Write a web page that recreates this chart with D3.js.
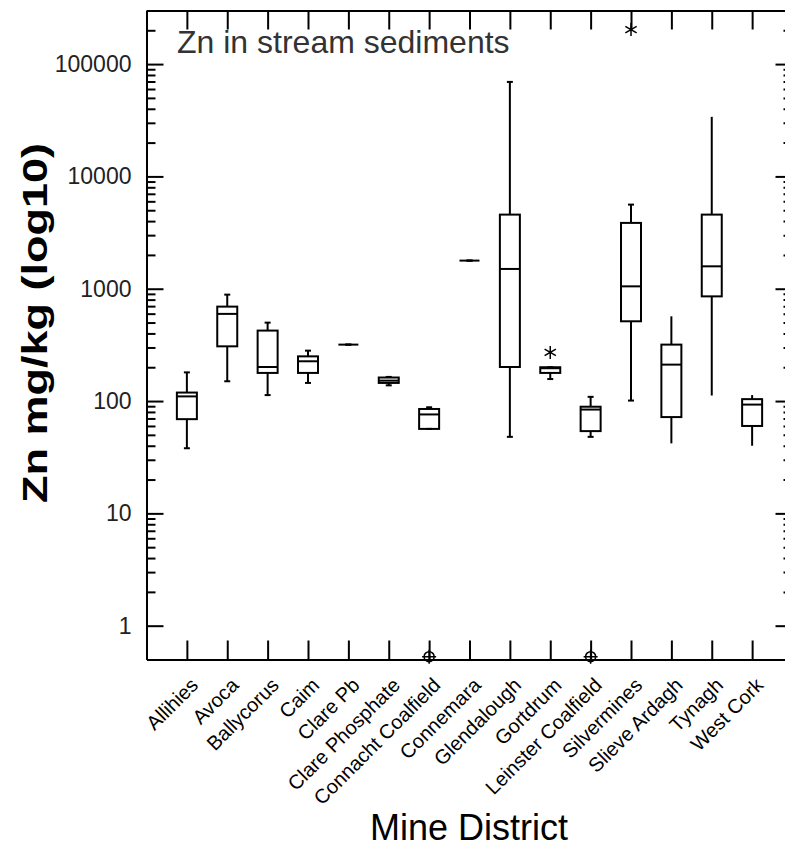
<!DOCTYPE html>
<html>
<head>
<meta charset="utf-8">
<script src="https://cdn.jsdelivr.net/npm/d3@7"></script>
<style>
  body { margin: 0; background: #fff; }
  text { font-family: "Liberation Sans", Arial, sans-serif; }
</style>
</head>
<body>
<div class="container"></div>
<script>
// box plot values (mg/kg)
const districts = ["Allihies", "Avoca", "Ballycorus", "Caim", "Clare Pb", "Clare Phosphate",
  "Connacht Coalfield", "Connemara", "Glendalough", "Gortdrum", "Leinster Coalfield",
  "Silvermines", "Slieve Ardagh", "Tynagh", "West Cork"];
const mins    = [38, 150, 113, 145, 318, 138, 56.5, 1780, 48, 157, 48, 101, 42, 112, 40];
const q1s     = [69, 307, 178, 178, 318, 145, 56.5, 1780, 201, 178, 54, 513, 72, 855, 60];
const medians = [110, 597, 201, 226, 318, 152, 76, 1780, 1500, 196, 84, 1050, 211, 1583, 93];
const q3s     = [119, 693, 424, 250, 318, 162, 85, 1780, 4570, 200, 89, 3855, 318, 4570, 104];
const maxs    = [180, 886, 499, 281, 318, 164, 88, 1780, 69400, 200, 109, 5610, 568, 33900, 113];

// outliers: [district index, value]
const farOutliers = [[6, 0.53], [10, 0.53]];       // drawn as circles
const outliers = [[9, 271], [11, 203000]];          // drawn as asterisks

const yMajor = [1, 10, 100, 1000, 10000, 100000];

const width = 785;
const height = 850;
const frame = { left: 146.5, right: 792.5, top: 10.5, bottom: 659.5 };

const svg = d3.select(".container")
  .append("svg")
  .attr("width", width)
  .attr("height", height);

const x = d3.scaleLinear()
  .domain([0, districts.length + 1])
  .range([frame.left, frame.right]);

const y = d3.scaleLog()
  .domain([0.5, 300000])
  .range([frame.bottom, frame.top]);

// minor ticks 2..9 for every decade inside the domain
let yMinor = [];
yMajor.forEach(d => {
  for (let k = 2; k <= 9; k++) {
    if (d * k <= 300000) yMinor.push(d * k);
  }
});

function styleAxis(g) {
  g.selectAll("path, line").attr("stroke", "#000").attr("stroke-width", 2);
}

// left axis with labels
svg.append("g")
  .attr("transform", `translate(${frame.left},0)`)
  .call(d3.axisLeft(y).tickValues(yMajor).tickSize(-17).tickSizeOuter(0)
    .tickPadding(15).tickFormat(d3.format("d")))
  .call(styleAxis)
  .call(g => g.selectAll("text")
    .attr("font-size", 23)
    .attr("fill", "#222")
    .style("font-family", "'Liberation Sans', Arial, sans-serif"));

svg.append("g")
  .attr("transform", `translate(${frame.left},0)`)
  .call(d3.axisLeft(y).tickValues(yMinor).tickSize(-9).tickSizeOuter(0).tickFormat(""))
  .call(styleAxis);

// right axis, ticks only
svg.append("g")
  .attr("transform", `translate(${frame.right},0)`)
  .call(d3.axisRight(y).tickValues(yMajor).tickSize(-17).tickSizeOuter(0).tickFormat(""))
  .call(styleAxis);

svg.append("g")
  .attr("transform", `translate(${frame.right},0)`)
  .call(d3.axisRight(y).tickValues(yMinor).tickSize(-9).tickSizeOuter(0).tickFormat(""))
  .call(styleAxis);

// top axis, ticks only
svg.append("g")
  .attr("transform", `translate(0,${frame.top})`)
  .call(d3.axisTop(x).tickValues(d3.range(1, districts.length + 1)).tickSize(-19)
    .tickSizeOuter(0).tickFormat(""))
  .call(styleAxis);

// bottom axis with rotated district names
svg.append("g")
  .attr("transform", `translate(0,${frame.bottom})`)
  .call(d3.axisBottom(x).tickValues(d3.range(1, districts.length + 1)).tickSize(-19)
    .tickSizeOuter(0).tickFormat(i => districts[i - 1]))
  .call(styleAxis)
  .call(g => g.selectAll("text")
    .attr("font-size", 20)
    .attr("fill", "#000")
    .attr("text-anchor", "end")
    .attr("x", 12)
    .attr("y", 27)
    .attr("dy", 0)
    .attr("transform", "rotate(-45, 12, 27)")
    .style("font-family", "'Liberation Sans', Arial, sans-serif"));

// box plots
const boxW = 20, capW = 3;
const boxes = svg.append("g")
  .selectAll("g")
  .data(districts)
  .join("g")
  .attr("stroke", "#000")
  .attr("stroke-width", 2)
  .attr("fill", "none");

// whiskers
boxes.append("line")
  .attr("x1", (d, i) => x(i + 1)).attr("x2", (d, i) => x(i + 1))
  .attr("y1", (d, i) => y(maxs[i])).attr("y2", (d, i) => y(q3s[i]));
boxes.append("line")
  .attr("x1", (d, i) => x(i + 1)).attr("x2", (d, i) => x(i + 1))
  .attr("y1", (d, i) => y(q1s[i])).attr("y2", (d, i) => y(mins[i]));

// whisker caps
boxes.filter((d, i) => maxs[i] > q3s[i]).append("line")
  .attr("x1", (d, i) => x(i + 1) - capW).attr("x2", (d, i) => x(i + 1) + capW)
  .attr("y1", (d, i) => y(maxs[i])).attr("y2", (d, i) => y(maxs[i]));
boxes.filter((d, i) => mins[i] < q1s[i]).append("line")
  .attr("x1", (d, i) => x(i + 1) - capW).attr("x2", (d, i) => x(i + 1) + capW)
  .attr("y1", (d, i) => y(mins[i])).attr("y2", (d, i) => y(mins[i]));

// box
boxes.append("rect")
  .attr("x", (d, i) => x(i + 1) - boxW / 2)
  .attr("width", boxW)
  .attr("y", (d, i) => y(q3s[i]))
  .attr("height", (d, i) => y(q1s[i]) - y(q3s[i]))
  .attr("fill", "#fff");

// median
boxes.append("line")
  .attr("x1", (d, i) => x(i + 1) - boxW / 2).attr("x2", (d, i) => x(i + 1) + boxW / 2)
  .attr("y1", (d, i) => y(medians[i])).attr("y2", (d, i) => y(medians[i]));

// far outliers as circles with a small cross
const far = svg.append("g")
  .selectAll("g")
  .data(farOutliers)
  .join("g")
  .attr("transform", d => `translate(${x(d[0] + 1)},${y(d[1])})`)
  .attr("stroke", "#000")
  .attr("stroke-width", 1.5)
  .attr("fill", "none");
far.append("circle").attr("r", 5);
far.append("path").attr("d", "M-7,0H7M0,-7V7");

// outliers as asterisks
svg.append("g")
  .selectAll("path")
  .data(outliers)
  .join("path")
  .attr("transform", d => `translate(${x(d[0] + 1)},${y(d[1])})`)
  .attr("d", d3.symbol().type(d3.symbolAsterisk).size(120))
  .attr("fill", "none")
  .attr("stroke", "#000")
  .attr("stroke-width", 1.5);

// chart title inside the frame
svg.append("text")
  .attr("x", 177)
  .attr("y", 53)
  .attr("font-size", 32)
  .attr("fill", "#333")
  .text("Zn in stream sediments");

// axis titles
svg.append("text")
  .attr("transform", "translate(47,323) rotate(-90)")
  .attr("text-anchor", "middle")
  .attr("font-size", 35)
  .attr("font-weight", "bold")
  .attr("fill", "#000")
  .attr("textLength", 360)
  .attr("lengthAdjust", "spacingAndGlyphs")
  .text("Zn mg/kg (log10)");

svg.append("text")
  .attr("x", 469)
  .attr("y", 840)
  .attr("text-anchor", "middle")
  .attr("font-size", 36)
  .attr("fill", "#000")
  .text("Mine District");
</script>
</body>
</html>
